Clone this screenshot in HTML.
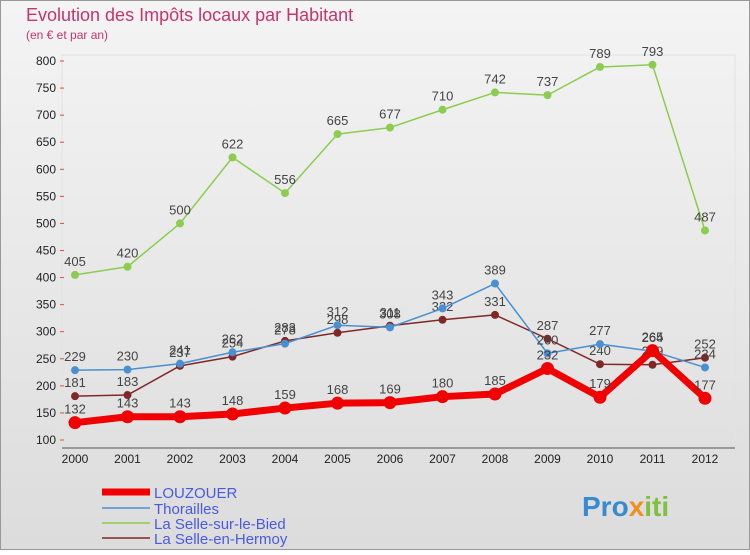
<!DOCTYPE html>
<html><head><meta charset="utf-8"><style>
body{margin:0;width:750px;height:550px;overflow:hidden;background:#fff;font-family:"Liberation Sans",sans-serif}
</style></head><body>
<svg width="750" height="550" xmlns="http://www.w3.org/2000/svg">
<defs><linearGradient id="bg" x1="0" y1="0" x2="0" y2="1"><stop offset="0" stop-color="#f4f4f4"/><stop offset="1" stop-color="#dcdcdc"/></linearGradient></defs>
<rect x="0.5" y="0.5" width="749" height="549" fill="url(#bg)" stroke="#999"/>
<text x="26" y="21" font-size="18" fill="#c8336e">Evolution des Impôts locaux par Habitant</text>
<text x="26" y="39" font-size="12" fill="#c8336e">(en € et par an)</text>
<g id="axes"></g><g id="series"></g>
<g>
<line x1="102" y1="492" x2="150" y2="492" stroke="#f00000" stroke-width="7"/><text x="154" y="498" font-size="15" fill="#4a5ae0">LOUZOUER</text>
<line x1="102" y1="508" x2="150" y2="508" stroke="#4a90d0" stroke-width="1.5"/><text x="154" y="514" font-size="15" fill="#4a5ae0">Thorailles</text>
<line x1="102" y1="523" x2="150" y2="523" stroke="#8ccc50" stroke-width="1.5"/><text x="154" y="529" font-size="15" fill="#4a5ae0">La Selle-sur-le-Bied</text>
<line x1="102" y1="538" x2="150" y2="538" stroke="#802828" stroke-width="1.5"/><text x="154" y="544" font-size="15" fill="#4a5ae0">La Selle-en-Hermoy</text>
</g>
<text x="582" y="516" font-size="28" font-weight="bold" fill="#3a8ad0">Pro<tspan fill="#f09020">x</tspan><tspan fill="#80c040">iti</tspan></text>
</svg>
<script>
const years=["2000","2001","2002","2003","2004","2005","2006","2007","2008","2009","2010","2011","2012"];
const yTicks=[100,150,200,250,300,350,400,450,500,550,600,650,700,750,800];
const louzouer=[132,143,143,148,159,168,169,180,185,232,179,265,177];
const thorailles=[229,230,241,262,278,312,308,343,389,260,277,264,234];
const bied=[405,420,500,622,556,665,677,710,742,737,789,793,487];
const hermoy=[181,183,237,254,283,298,311,322,331,287,240,239,252];
const NS="http://www.w3.org/2000/svg";
const X=i=>75+i*52.5, Y=v=>440-(v-100)*379/700;
function mk(t,a,p){const e=document.createElementNS(NS,t);for(const k in a)e.setAttribute(k,a[k]);p.appendChild(e);return e;}
const ax=document.getElementById('axes'),sg=document.getElementById('series');
mk('rect',{x:62,y:55,width:673,height:393,fill:'none',stroke:'#e2e2e2'},ax);
yTicks.forEach(v=>{const t=mk('text',{x:56,y:Y(v)+4,'font-size':12,'text-anchor':'end',fill:'#222'},ax);t.textContent=v;


mk('line',{x1:60,x2:64,y1:Y(v),y2:Y(v),stroke:'#e44'},ax);});
years.forEach((y,i)=>{const t=mk('text',{x:X(i),y:463,'font-size':12,'text-anchor':'middle',fill:'#222'},ax);t.textContent=y;

});
mk('line',{x1:62,x2:735,y1:448,y2:448,stroke:'#555'},ax);
function series(d,col,w,r,name){const g=mk('g',{},sg);


mk('polyline',{points:d.map((v,i)=>X(i)+','+Y(v)).join(' '),fill:'none',stroke:col,'stroke-width':w,'stroke-linejoin':'round'},g);
d.forEach((v,i)=>{const c=mk('circle',{cx:X(i),cy:Y(v),r:r,fill:col},g);


const t=mk('text',{x:X(i),y:Y(v)-9,'font-size':13,'text-anchor':'middle',fill:'#444'},g);t.textContent=v;

});}
series(bied,'#8ccc50',1.5,4,'series-la-selle-sur-le-bied');
series(hermoy,'#802828',1.5,4,'series-la-selle-en-hermoy');
series(thorailles,'#4a90d0',1.5,4,'series-thorailles');
series(louzouer,'#f00000',7,6.5,'series-louzouer');
</script>
</body></html>
